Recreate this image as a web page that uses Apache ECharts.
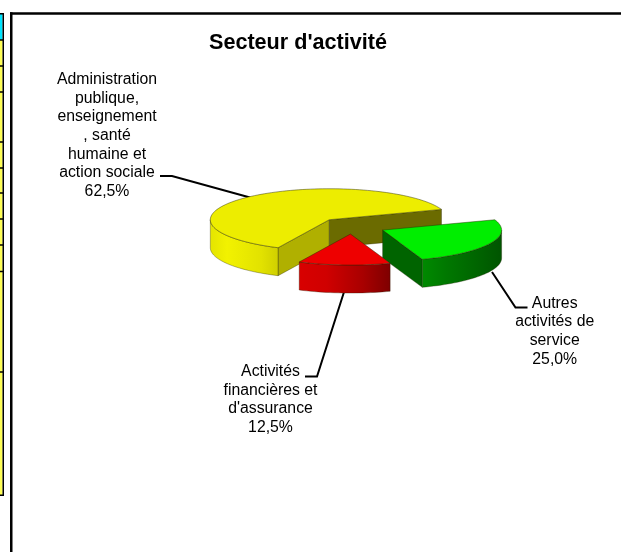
<!DOCTYPE html>
<html><head><meta charset="utf-8">
<style>html,body{margin:0;padding:0;background:#fff}#c{width:621px;height:552px}</style>
<script src="https://cdn.jsdelivr.net/npm/echarts@6/dist/echarts.min.js"></script>
</head><body><div id="c"></div>
<script>
// --- data ---
const chartTitle = "Secteur d'activité";
const categories = [
  "Administration\npublique,\nenseignement\n, santé\nhumaine et\naction sociale",
  "Autres\nactivités de\nservice",
  "Activités\nfinancières et\nd'assurance"
];
const values = [62.5, 25.0, 12.5];

// --- styles ---
const topColors = ['#EDED00', '#00EE00', '#EE0000'];
const sideStops = [
  [[0,'#E4E400'],[0.25,'#F2F200'],[0.75,'#E2E200'],[1,'#CFCF00']],
  [[0,'#008A00'],[0.3,'#007800'],[0.7,'#006400'],[1,'#005400']],
  [[0,'#D80000'],[0.3,'#D00000'],[0.7,'#A80000'],[1,'#7E0000']]
];
const startWallColors = ['#B0B000', '#006000', '#990000'];
const endWallColors = ['#6B6B00', '#006400', '#990000'];

// --- layout ---
const FONT = '"Liberation Sans", Arial, sans-serif';
const pie = { cx: 352, cy: 226.3, rx: 119, ry: 31, depth: 28, explode: [0.285, 0.285, 0.25], firstAngle: 115.5 };
const labelAnchors = [[107, 70.2], [554.7, 294], [270.5, 362.2]];
const leaderPaths = [
  [[160,176],[172,176],[250,197.5]],
  [[492,272],[515.5,307.5],[527.5,307.5]],
  [[344,292],[317,376.5],[305,376.5]]
];
const tableSeparators = [40, 66, 92, 142, 168, 193, 219, 245, 271.5, 372];

const total = values.reduce((a, b) => a + b, 0);
const rad = d => d * Math.PI / 180;

function percentText(v) { return (v / total * 100).toFixed(1).replace('.', ',') + '%'; }

function arcPoints(c, a0, a1) {
  const pts = [], n = Math.max(2, Math.ceil(Math.abs(a1 - a0) / 2));
  for (let i = 0; i <= n; i++) {
    const t = rad(a0 + (a1 - a0) * i / n);
    pts.push([c[0] + pie.rx * Math.cos(t), c[1] + pie.ry * Math.sin(t)]);
  }
  return pts;
}

function wall(c, a, color) {
  const t = rad(a);
  const e = [c[0] + pie.rx * Math.cos(t), c[1] + pie.ry * Math.sin(t)];
  return { type: 'polygon',
    shape: { points: [c, e, [e[0], e[1] + pie.depth], [c[0], c[1] + pie.depth]] },
    style: { fill: color, stroke: 'rgba(30,30,0,0.55)', lineWidth: 0.6 } };
}

const spans = [];
values.reduce((a, v) => { const b = a + v / total * 360; spans.push([a, b]); return b; }, pie.firstAngle);

function renderItem(params, api) {
  const i = params.dataIndex;
  const [a0, a1] = spans[i];
  const mid = rad((a0 + a1) / 2);
  const c = [
    pie.cx + pie.explode[i] * pie.rx * Math.cos(mid),
    pie.cy + pie.explode[i] * pie.ry * Math.sin(mid)
  ];
  const children = [];

  // leader line
  children.push({ type: 'polyline', shape: { points: leaderPaths[i] },
    style: { fill: 'none', stroke: '#000', lineWidth: 2 } });

  // radial walls that face the viewer
  if (Math.cos(rad(a0)) < 0) children.push(wall(c, a0, startWallColors[i]));
  if (Math.cos(rad(a1)) > 0) children.push(wall(c, a1, endWallColors[i]));

  // outer rim: only the front half of the ellipse (0..180 degrees, modulo 360)
  let fa0 = a0 % 360, fa1 = fa0 + (a1 - a0);
  if (fa0 > 180) { fa0 -= 360; fa1 -= 360; }
  const rimFrom = Math.max(fa0, 0), rimTo = Math.min(fa1, 180);
  if (rimTo > rimFrom) {
    const top = arcPoints(c, rimFrom, rimTo);
    const bottom = top.map(p => [p[0], p[1] + pie.depth]).reverse();
    children.push({ type: 'polygon', shape: { points: top.concat(bottom) },
      style: {
        fill: new echarts.graphic.LinearGradient(0, 0, 1, 0,
          sideStops[i].map(s => ({ offset: s[0], color: s[1] }))),
        stroke: 'rgba(30,30,0,0.55)', lineWidth: 0.6 } });
  }

  // top face
  children.push({ type: 'polygon', shape: { points: [c].concat(arcPoints(c, a0, a1)) },
    style: { fill: topColors[i], stroke: 'rgba(40,40,0,0.65)', lineWidth: 0.7 } });

  // data label
  children.push({ type: 'text', style: {
    x: labelAnchors[i][0], y: labelAnchors[i][1],
    text: categories[i] + '\n' + percentText(api.value(1)),
    align: 'center', verticalAlign: 'top',
    font: '15.8px ' + FONT, lineHeight: 18.67, fill: '#000' } });

  return { type: 'group', children };
}

// --- page furniture: chart frame and clipped neighbouring table ---
const furniture = [
  { type: 'rect', shape: { x: 0, y: 14, width: 2.5, height: 26 }, style: { fill: '#00E5FF' } },
  { type: 'rect', shape: { x: 0, y: 40, width: 2.5, height: 455 }, style: { fill: '#FFFF55' } },
  { type: 'rect', shape: { x: 2.5, y: 13, width: 1.5, height: 483 }, style: { fill: '#000' } },
  { type: 'rect', shape: { x: 0, y: 13, width: 3, height: 1.5 }, style: { fill: '#000' } },
  { type: 'rect', shape: { x: 0, y: 494.5, width: 3, height: 1.5 }, style: { fill: '#000' } },
  { type: 'rect', shape: { x: 10, y: 12.3, width: 611, height: 2.5 }, style: { fill: '#000' } },
  { type: 'rect', shape: { x: 10, y: 12.3, width: 2.5, height: 539.7 }, style: { fill: '#000' } }
].concat(tableSeparators.map(y => (
  { type: 'rect', shape: { x: 0, y: y - 0.75, width: 3, height: 1.5 }, style: { fill: '#000' } }
)));

const chart = echarts.init(document.getElementById('c'), null, { renderer: 'canvas' });
chart.setOption({
  animation: false,
  backgroundColor: '#fff',
  title: { text: chartTitle, left: 204, top: 26.8,
    textStyle: { fontFamily: FONT, fontSize: 21.6, fontWeight: 'bold', color: '#000' } },
  graphic: furniture.map(g => Object.assign({ silent: true, z: 0 }, g)),
  series: [{
    type: 'custom',
    coordinateSystem: 'none',
    renderItem,
    silent: true,
    data: values.map((v, i) => [i, v])
  }]
});
</script></body></html>
